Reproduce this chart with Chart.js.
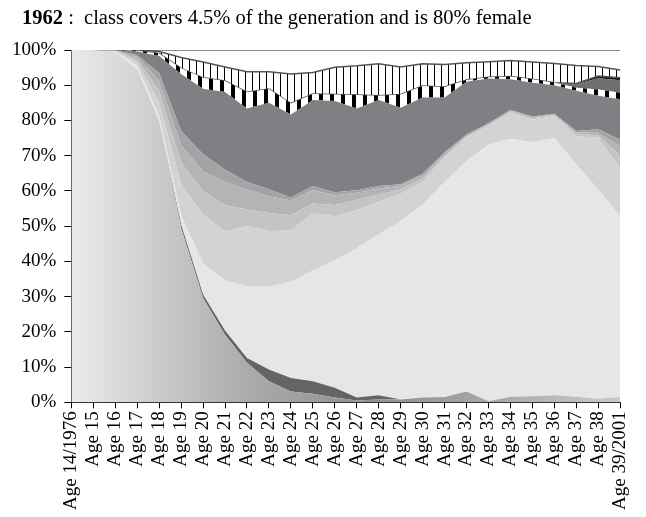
<!DOCTYPE html>
<html>
<head>
<meta charset="utf-8">
<script src="https://cdn.jsdelivr.net/npm/chart.js@4/dist/chart.umd.min.js"></script>
<style>
  body { margin: 0; background: #fff; }
  #wrap { position: relative; width: 646px; height: 517px; }
  #title { position: absolute; left: 22px; top: 6px; font-family: "Liberation Serif", serif; font-size: 20.5px; color: #000; white-space: pre; }
  canvas { position: absolute; left: 0; top: 0; }
</style>
</head>
<body>
<div id="wrap">
  <canvas id="myChart" width="646" height="517"></canvas>
  <div id="title"><b>1962</b> :  class covers 4.5% of the generation and is 80% female</div>
</div>
<script>
// age axis, 1976 -> 2001
var labels = ["Age 14/1976", "Age 15", "Age 16", "Age 17", "Age 18", "Age 19", "Age 20", "Age 21", "Age 22",
  "Age 23", "Age 24", "Age 25", "Age 26", "Age 27", "Age 28", "Age 29", "Age 30", "Age 31", "Age 32",
  "Age 33", "Age 34", "Age 35", "Age 36", "Age 37", "Age 38", "Age 39/2001"];

// shares in % (bottom band first)
var band1 = [100, 100, 99.6, 94.5, 79.8, 49.5, 29.6, 19.2, 11.2, 6.0, 3.1, 2.4, 1.4, 0.5, 0.8, 0.8, 1.4, 1.5, 3.1, 0.3, 1.6, 1.7, 2.0, 1.6, 1.0, 1.6];
var band2 = [0, 0, 0, 0, 0, 1.0, 1.0, 1.2, 1.4, 3.3, 3.8, 3.6, 2.7, 0.9, 1.2, 0, 0, 0, 0, 0, 0, 0, 0, 0, 0, 0];
var band3 = [0, 0, 0.1, 1.0, 1.5, 2.5, 8.7, 14.2, 20.4, 23.5, 27.3, 31.4, 36.2, 42.3, 45.6, 50.6, 54.8, 61.0, 65.4, 72.9, 73.2, 72.1, 73.0, 65.9, 59.4, 51.2];
var band4 = [0, 0, 0.1, 1.0, 3.7, 9.0, 14.0, 13.9, 17.0, 15.8, 14.6, 16.2, 12.5, 10.8, 9.4, 7.7, 6.3, 7.0, 6.6, 5.2, 7.4, 6.5, 6.2, 8.1, 14.7, 13.7];
var band5 = [0, 0, 0.1, 0.8, 3.4, 6.0, 6.7, 7.5, 4.7, 5.1, 4.3, 2.8, 3.2, 3.0, 2.0, 1.4, 1.0, 0.5, 0.3, 0.3, 0.3, 0.3, 0.3, 0.6, 0.7, 3.5];
var band6 = [0, 0, 0.05, 0.7, 2.8, 5.0, 5.5, 6.5, 5.7, 4.8, 4.2, 3.8, 2.8, 2.0, 1.7, 1.0, 0.8, 0.5, 0.3, 0.3, 0.3, 0.3, 0.2, 0.4, 0.7, 2.5];
var band7 = [0, 0, 0.05, 0.6, 2.3, 4.0, 4.9, 3.6, 2.1, 2.0, 0.8, 1.2, 0.8, 0.7, 0.7, 0.4, 0.6, 0.5, 0.3, 0.2, 0.2, 0.2, 0.2, 0.4, 1.0, 2.0];
var band8 = [0, 0, 0, 1.0, 4.8, 16.2, 18.6, 22.0, 20.9, 24.5, 23.6, 24.4, 25.9, 23.2, 24.4, 21.7, 21.6, 15.5, 15.0, 12.7, 8.7, 9.6, 8.1, 11.4, 9.5, 11.5];
var band9 = [0, 0, 0, 0.2, 0.7, 1.6, 3.1, 3.1, 4.6, 3.9, 3.1, 1.7, 1.9, 3.8, 1.2, 3.8, 3.3, 3.0, 0.5, 0.4, 0.8, 1.0, 0.7, 0.9, 1.8, 1.9];
var band10 = [0, 0, 0, 0, 0, 0, 0, 0, 0, 0, 0, 0, 0, 0, 0, 0, 0, 0, 0, 0, 0, 0, 0, 1.0, 3.2, 3.5];
var band11 = [0, 0, 0, 0, 0, 0, 0, 0, 0, 0, 0, 0, 0, 0, 0, 0, 0, 0, 0, 0, 0, 0, 0, 0.2, 0.6, 0.7];
var band12 = [0, 0, 0, 0.2, 0.6, 3.1, 4.5, 4.0, 5.8, 4.9, 8.4, 6.1, 7.7, 8.3, 9.1, 7.8, 6.3, 6.4, 4.9, 4.4, 4.5, 4.9, 5.5, 5.1, 2.7, 2.2];
var band13 = [0, 0, 0, 0, 0.4, 2.1, 3.4, 4.8, 6.2, 6.2, 6.8, 6.4, 4.9, 4.5, 3.9, 4.8, 3.9, 4.1, 3.6, 3.3, 3.0, 3.4, 3.8, 4.4, 4.7, 5.7];

var yTicks = [0, 10, 20, 30, 40, 50, 60, 70, 80, 90, 100];

// vertical stripes: white with black bars
function stripes(period, bar) {
  var c = document.createElement("canvas");
  c.width = period; c.height = 4;
  var x = c.getContext("2d");
  x.fillStyle = "#fff"; x.fillRect(0, 0, period, 4);
  x.fillStyle = "#000"; x.fillRect(0, 0, bar, 4);
  return x.createPattern(c, "repeat");
}

function schoolGradient(context) {
  var chart = context.chart;
  var area = chart.chartArea;
  if (!area) return "#c0c0c2";
  var g = chart.ctx.createLinearGradient(area.left, 0, area.right, 0);
  g.addColorStop(0, "#ebebed");
  g.addColorStop(0.33, "#a9a9ab");
  g.addColorStop(0.55, "#8f8f91");
  g.addColorStop(0.75, "#a6a6a8");
  g.addColorStop(1, "#cacacc");
  return g;
}

function band(data, bg, first) {
  return {
    data: data,
    backgroundColor: bg,
    borderWidth: 0,
    pointRadius: 0,
    fill: first ? "origin" : "-1",
    tension: 0
  };
}

var datasets = [
  band(band1, schoolGradient, true),
  band(band2, "#646466"),
  band(band3, "#e5e6e8"),
  band(band4, "#d2d3d5"),
  band(band5, "#c3c4c6"),
  band(band6, "#b3b4b6"),
  band(band7, "#a3a4a6"),
  band(band8, "#7f8083"),
  band(band9, stripes(11, 4)),
  band(band10, "#6e6e70"),
  band(band11, "#1a1a1a"),
  band(band12, stripes(7, 1)),
  band(band13, "#ffffff")
];
datasets[10].borderColor = "#555";
datasets[10].borderWidth = 1.5;
datasets[11].borderColor = "#555";
datasets[11].borderWidth = 1.5;
datasets[12].borderColor = "#8c8c8c";
datasets[12].borderWidth = 2;

var serif = "'Liberation Serif', 'Times New Roman', serif";

const config = {
  type: "line",
  data: { labels: labels, datasets: datasets },
  options: {
    responsive: false,
    animation: false,
    layout: { padding: { left: 4, right: 9, top: 50, bottom: 4 } },
    plugins: { legend: { display: false }, tooltip: { enabled: false } },
    scales: {
      x: {
        offset: false,
        grid: { drawOnChartArea: false, color: "#000", tickLength: 6 },
        border: { color: "#333" },
        ticks: { autoSkip: false, maxRotation: 90, minRotation: 90, color: "#000", font: { family: serif, size: 19 } }
      },
      y: {
        stacked: true,
        min: 0,
        max: 100,
        afterBuildTicks: function (axis) { axis.ticks = yTicks.map(function (v) { return { value: v }; }); },
        grid: { drawOnChartArea: false, color: "#000", tickLength: 7 },
        border: { color: "#333" },
        ticks: { padding: 8, color: "#000", font: { family: serif, size: 19 }, callback: function (v) { return v + "%"; } }
      }
    }
  }
};

const myChart = new Chart(document.getElementById("myChart"), config);
</script>
</body>
</html>
